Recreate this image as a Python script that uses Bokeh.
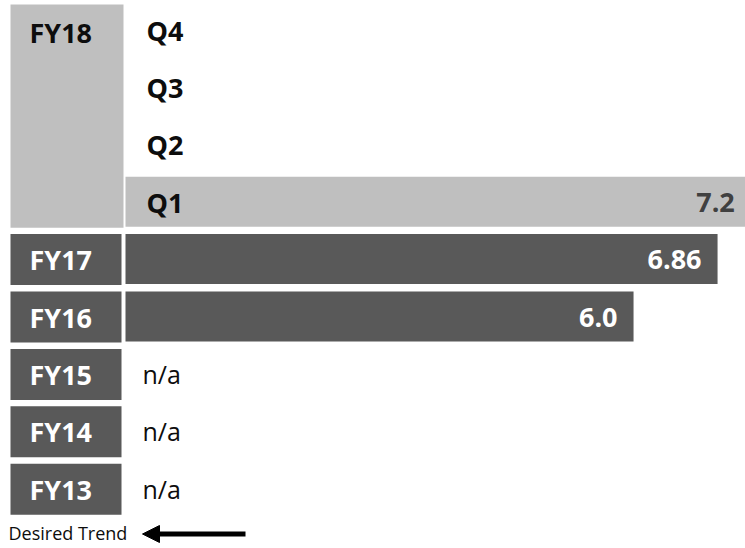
from bokeh.plotting import figure
from bokeh.models import Range1d, ColumnDataSource, LabelSet, Label, Arrow, NormalHead
from bokeh.core.properties import value
from bokeh.embed import file_html
from bokeh.resources import INLINE

# ---------------- data ----------------
current_year = "FY18"
quarters = ["Q4", "Q3", "Q2", "Q1"]
quarter_values = [None, None, None, 7.2]
quarter_value_labels = ["", "", "", "7.2"]

years = ["FY17", "FY16", "FY15", "FY14", "FY13"]
year_values = [6.86, 6.0, None, None, None]
year_value_labels = ["6.86", "6.0", "n/a", "n/a", "n/a"]

trend_label = "Desired Trend"

# ---------------- layout / style ----------------
W, H = 745, 548
FONT = "Open Sans"
ROW_Y0, ROW_STEP, BAR_H = 29.0, 57.4, 50.0
BAR_X0 = 125.0          # pixel where the value axis starts
AXIS_MIN = 0.8          # value at the start of the value axis
PX_PER_UNIT = 97.7
LIGHT = "#BFBFBF"
DARK = "#595959"
INK = "#0d0d0d"

p = figure(width=W, height=H, x_range=Range1d(0, W), y_range=Range1d(H, 0),
           x_axis_type=None, y_axis_type=None, output_backend="svg",
           toolbar_location=None, min_border=0)
p.grid.visible = False
p.outline_line_color = None
p.background_fill_color = "white"
p.border_fill_color = "white"
p.extra_x_ranges = {"val": Range1d(AXIS_MIN - BAR_X0 / PX_PER_UNIT,
                                   AXIS_MIN + (W - BAR_X0) / PX_PER_UNIT)}

rows = quarters + years
row_y = {name: ROW_Y0 + i * ROW_STEP for i, name in enumerate(rows)}

# FY18 block spanning the quarter rows
p.quad(left=[10], right=[123], top=[4], bottom=[row_y[quarters[-1]] + BAR_H / 2 + 1],
       fill_color=LIGHT, line_color=None)

# year label boxes
p.quad(left=[10] * len(years), right=[121] * len(years),
       top=[row_y[y] - BAR_H / 2 for y in years],
       bottom=[row_y[y] + BAR_H / 2 + 1 for y in years],
       fill_color=DARK, line_color=None)

# bars
bar_names, bar_vals, bar_cols, bar_txt, bar_txtcol = [], [], [], [], []
for q, v, t in zip(quarters, quarter_values, quarter_value_labels):
    if v is not None:
        bar_names.append(q); bar_vals.append(v); bar_cols.append(LIGHT)
        bar_txt.append(t); bar_txtcol.append("#404040")
for y, v, t in zip(years, year_values, year_value_labels):
    if v is not None:
        bar_names.append(y); bar_vals.append(v); bar_cols.append(DARK)
        bar_txt.append(t); bar_txtcol.append("white")

bsrc = ColumnDataSource(dict(
    left=[AXIS_MIN] * len(bar_vals), right=bar_vals,
    top=[row_y[n] - BAR_H / 2 for n in bar_names],
    bottom=[row_y[n] + BAR_H / 2 for n in bar_names],
    ymid=[row_y[n] + 0.5 for n in bar_names],
    color=bar_cols, txt=bar_txt, txtcol=bar_txtcol))
p.quad(left="left", right="right", top="top", bottom="bottom", source=bsrc,
       fill_color="color", line_color=None, x_range_name="val")
p.add_layout(LabelSet(x="right", y="ymid", text="txt", source=bsrc, x_range_name="val",
                      x_offset=-16, text_align="right", text_baseline="middle",
                      text_font=value(FONT), text_font_style="bold",
                      text_font_size="27px", text_color="txtcol"))

# n/a labels
na = [(y, t) for y, v, t in zip(years, year_values, year_value_labels) if v is None]
nsrc = ColumnDataSource(dict(x=[142] * len(na), y=[row_y[y] for y, _ in na],
                             txt=[t for _, t in na]))
p.text(x="x", y="y", text="txt", source=nsrc, text_align="left", text_baseline="middle",
       text_font=value(FONT), text_font_size="25px", text_color=INK)

# quarter labels
qsrc = ColumnDataSource(dict(x=[146] * len(quarters), y=[row_y[q] + 0.5 for q in quarters],
                             txt=quarters))
p.text(x="x", y="y", text="txt", source=qsrc, text_align="left", text_baseline="middle",
       text_font=value(FONT), text_font_style="bold", text_font_size="27px", text_color=INK)

# year labels
ysrc = ColumnDataSource(dict(x=[29] * len(years), y=[row_y[y] + 0.5 for y in years], txt=years))
p.text(x="x", y="y", text="txt", source=ysrc, text_align="left", text_baseline="middle",
       text_font=value(FONT), text_font_style="bold", text_font_size="27px", text_color="white")
p.add_layout(Label(x=29, y=row_y[quarters[0]] + 3, text=current_year, text_align="left",
                   text_baseline="middle", text_font=FONT, text_font_style="bold",
                   text_font_size="27px", text_color=INK))

# desired trend
p.add_layout(Label(x=8, y=532, text=trend_label, text_align="left", text_baseline="middle",
                   text_font=FONT, text_font_size="18px", text_color=INK))
p.add_layout(Arrow(end=NormalHead(size=17, fill_color="black", line_color="black"),
                   x_start=245, y_start=533.5, x_end=142, y_end=533.5,
                   line_width=5, line_color="black"))

open("out.html", "w").write(file_html(p, INLINE))
